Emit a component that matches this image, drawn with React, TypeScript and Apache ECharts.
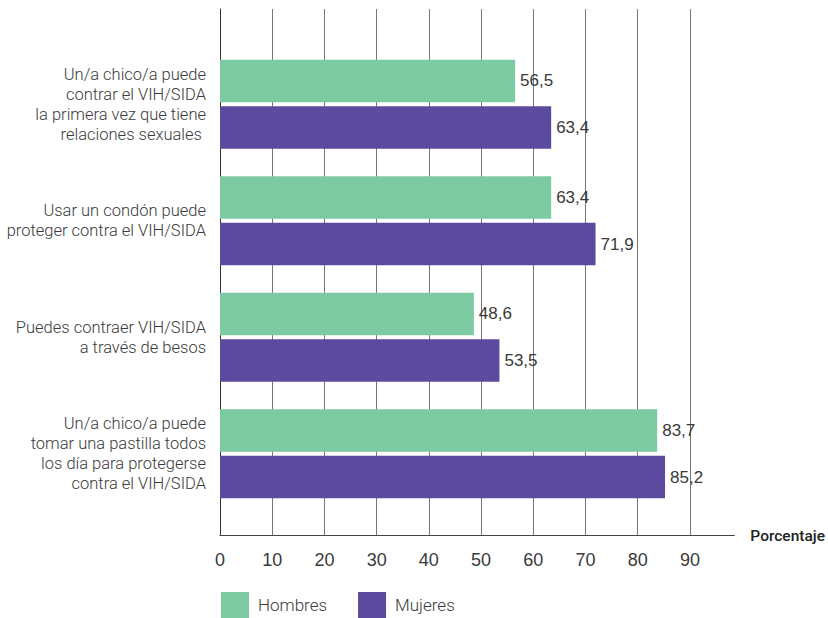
import React, { useEffect, useRef } from "react";
import * as echarts from "echarts";

const categories = [
  "Un/a chico/a puede\ncontrar el VIH/SIDA\nla primera vez que tiene\nrelaciones sexuales ",
  "Usar un condón puede\nproteger contra el VIH/SIDA",
  "Puedes contraer VIH/SIDA\na través de besos",
  "Un/a chico/a puede\ntomar una pastilla todos\nlos día para protegerse\ncontra el VIH/SIDA",
];
const hombres = [56.5, 63.4, 48.6, 83.7];
const mujeres = [63.4, 71.9, 53.5, 85.2];
const seriesNames = ["Hombres", "Mujeres"];
const axisName = "Porcentaje";

const GREEN = "#7CCAA1";
const PURPLE = "#5C4A9E";
const NARROW = "'Liberation Sans Narrow', 'Arial Narrow', sans-serif";
const SANS = "Roboto, 'Noto Sans', sans-serif";

export default function App() {
  const ref = useRef<HTMLDivElement>(null);
  useEffect(() => {
    if (!ref.current) return;
    const chart = echarts.init(ref.current, undefined, { renderer: "svg" });
    const fmt = (p: any) => Number(p.value).toFixed(1).replace(".", ",");
    const label = {
      show: true,
      position: "right",
      distance: 5,
      formatter: fmt,
      fontFamily: NARROW,
      fontSize: 17,
      color: "#3a3a3a",
    };
    chart.setOption({
      animation: false,
      backgroundColor: "#fff",
      legend: {
        data: seriesNames,
        left: 221,
        top: 592,
        padding: 0,
        itemWidth: 28,
        itemHeight: 26,
        itemGap: 31,
        icon: "rect",
        textStyle: {
          fontFamily: SANS,
          fontWeight: 300,
          fontSize: 17,
          color: "#3a3a3a",
          padding: [0, 0, 0, 4],
        },
      },
      grid: [
        { left: 220, right: 93.5, top: 9, bottom: 82.5 },
        { left: 220, right: 93.5, top: 46, bottom: 106 },
      ],
      xAxis: [
        {
          type: "value",
          gridIndex: 0,
          min: 0,
          max: 98.5,
          interval: 10,
          name: axisName,
          nameLocation: "end",
          nameGap: 16,
          nameTextStyle: {
            fontFamily: SANS,
            fontWeight: 500,
            fontSize: 15.5,
            color: "#222",
            verticalAlign: "middle",
          },
          axisLine: { show: true, onZero: false, lineStyle: { color: "#444", width: 1 } },
          axisTick: { show: false },
          axisLabel: {
            margin: 15,
            showMaxLabel: false,
            fontFamily: NARROW,
            fontSize: 18,
            color: "#3a3a3a",
          },
          splitLine: {
            show: true,
            showMinLine: false,
            showMaxLine: false,
            lineStyle: { color: "#777", width: 1 },
          },
        },
        {
          type: "value",
          gridIndex: 1,
          min: 0,
          max: 98.5,
          show: false,
        },
      ],
      yAxis: [
        {
          type: "value",
          gridIndex: 0,
          min: 0,
          max: 1,
          axisLine: { show: true, onZero: false, lineStyle: { color: "#333", width: 1 } },
          axisTick: { show: false },
          axisLabel: { show: false },
          splitLine: { show: false },
        },
        {
          type: "category",
          gridIndex: 1,
          inverse: true,
          data: categories,
          axisLine: { show: false },
          axisTick: { show: false },
          axisLabel: {
            margin: 14,
            fontFamily: SANS,
            fontWeight: 300,
            fontSize: 16.5,
            lineHeight: 20,
            color: "#3a3a3a",
            align: "right",
          },
        },
      ],
      series: [
        {
          name: seriesNames[0],
          type: "bar",
          xAxisIndex: 1,
          yAxisIndex: 1,
          data: hombres,
          itemStyle: { color: GREEN },
          barCategoryGap: "23.4%",
          barGap: "10%",
          label,
        },
        {
          name: seriesNames[1],
          type: "bar",
          xAxisIndex: 1,
          yAxisIndex: 1,
          data: mujeres,
          itemStyle: { color: PURPLE },
          barCategoryGap: "23.4%",
          barGap: "10%",
          label,
        },
      ],
    });
    return () => chart.dispose();
  }, []);
  return (
    <div
      ref={ref}
      style={{ position: "fixed", left: 0, top: 0, width: 828, height: 618, background: "#fff" }}
    />
  );
}
